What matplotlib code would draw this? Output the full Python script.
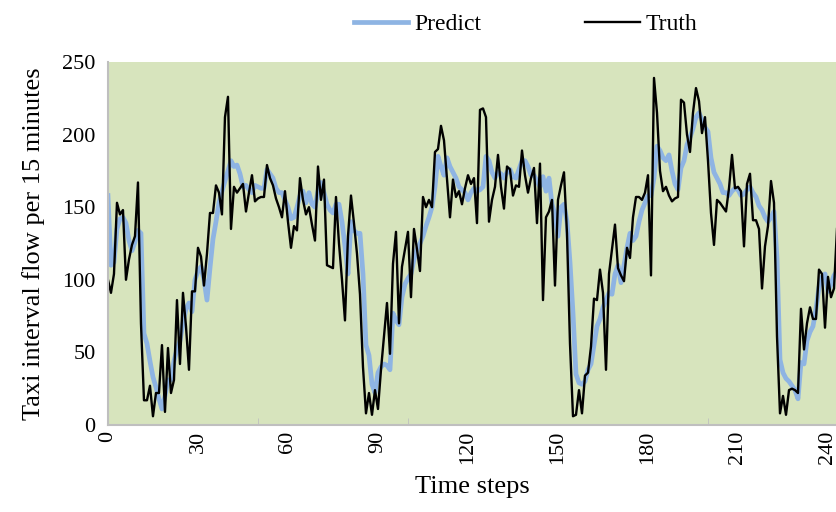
import matplotlib
matplotlib.use("Agg")
import matplotlib.pyplot as plt

plt.rcParams['font.family'] = ['Liberation Serif', 'DejaVu Serif']

# values, one per time step
TRUTH = [
    100, 91, 104, 153, 145, 148, 100, 114, 124, 130,
    167, 70, 17, 17, 27, 6, 22, 22, 55, 9,
    53, 22, 31, 86, 42, 91, 68, 38, 92, 92,
    122, 116, 96, 118, 146, 146, 165, 160, 145, 212,
    226, 135, 164, 160, 163, 166, 147, 160, 172, 154,
    156, 157, 157, 179, 170, 165, 156, 150, 143, 161,
    140, 122, 137, 134, 170, 155, 145, 150, 138, 127,
    178, 155, 169, 110, 109, 108, 157, 125, 100, 72,
    130, 158, 139, 118, 90, 40, 8, 22, 7, 24,
    11, 38, 61, 84, 49, 111, 133, 70, 109, 121,
    133, 88, 135, 121, 106, 157, 150, 155, 150, 188,
    190, 206, 196, 169, 143, 169, 157, 161, 152, 163,
    172, 166, 170, 139, 217, 218, 212, 140, 155, 164,
    186, 164, 149, 178, 176, 158, 165, 164, 189, 172,
    160, 170, 177, 139, 180, 86, 143, 147, 155, 96,
    155, 165, 174, 132, 56, 6, 7, 24, 8, 34,
    36, 54, 87, 86, 107, 91, 38, 104, 121, 138,
    108, 103, 99, 122, 115, 143, 157, 157, 155, 160,
    172, 103, 239, 215, 175, 161, 164, 158, 154, 156,
    157, 224, 222, 200, 188, 215, 232, 223, 201, 212,
    182, 146, 124, 155, 153, 150, 147, 163, 186, 163,
    164, 161, 123, 166, 173, 141, 141, 135, 94, 123,
    137, 168, 153, 61, 8, 20, 7, 24, 25, 24,
    22, 80, 52, 70, 81, 73, 73, 107, 104, 67,
    102, 88, 94, 135,
]

PREDICT = [
    158, 110, 112, 135, 142, 143, 139, 127, 120, 126,
    134, 132, 63, 56, 44, 33, 26, 18, 11, 20,
    31, 31, 44, 52, 58, 70, 80, 84, 78, 100,
    106, 109, 100, 86, 108, 128, 140, 153, 161, 168,
    175, 182, 178, 179, 173, 164, 165, 162, 160, 165,
    164, 163, 163, 176, 173, 170, 163, 160, 160, 155,
    150, 142, 143, 150, 158, 161, 153, 160, 152, 150,
    161, 167, 160, 152, 148, 146, 152, 152, 140, 123,
    104, 140, 134, 132, 132, 104, 55, 48, 28, 22,
    36, 40, 42, 41, 38, 77, 72, 69, 88, 97,
    101, 104, 114, 121, 125, 130, 137, 143, 150, 164,
    185, 178, 172, 184, 178, 174, 170, 164, 162, 160,
    155, 160, 163, 161, 162, 164, 185, 182, 174, 170,
    174, 173, 170, 174, 176, 171, 170, 176, 182, 182,
    178, 172, 172, 168, 164, 171, 161, 170, 152, 145,
    130, 150, 152, 140, 112, 77, 35, 29, 28, 30,
    38, 42, 55, 68, 73, 81, 86, 91, 90, 104,
    110, 98, 110, 122, 132, 127, 130, 140, 148, 153,
    158, 158, 170, 192, 189, 184, 182, 186, 175, 166,
    162, 177, 182, 193, 198, 204, 212, 215, 210, 205,
    202, 184, 174, 170, 166, 160, 160, 158, 161, 163,
    162, 158, 159, 162, 164, 160, 157, 151, 148, 143,
    140, 143, 147, 115, 45, 36, 32, 30, 27, 24,
    18, 43, 42, 58, 64, 68, 80, 95, 102, 104,
    92, 97, 103, 106,
]

STEPS = list(range(len(TRUTH)))
X_LABELS = [0, 30, 60, 90, 120, 150, 180, 210, 240]
X_MARKS = [0, 50, 100, 150, 200]
Y_TICKS = [0, 50, 100, 150, 200, 250]

fig = plt.figure(figsize=(8.37, 5.12), dpi=100)
ax = fig.add_axes([0.129, 0.170, 0.871, 0.709])
ax.set_facecolor('#d7e4bd')

ax.plot(STEPS, PREDICT, color='#8eb4e3', linewidth=3.4, label='Predict')
ax.plot(STEPS, TRUTH, color='black', linewidth=1.7, label='Truth')

ax.set_xlim(0, 243)
ax.set_ylim(0, 250)

ax.set_xticks(X_LABELS)
ax.set_xticklabels([str(v) for v in X_LABELS], rotation=90, fontsize=16)
ax.tick_params(axis='x', length=0, pad=4)
ax.set_xticks(X_MARKS, minor=True)
ax.tick_params(axis='x', which='minor', direction='in', length=5, color='#bfbfbf')

ax.set_yticks(Y_TICKS)
ax.set_yticklabels([str(v) for v in Y_TICKS], fontsize=16)
ax.tick_params(axis='y', length=0, pad=9)
ax.set_yticks([50, 200], minor=True)
ax.tick_params(axis='y', which='minor', direction='in', length=5, color='#bfbfbf')

for side in ('top', 'right'):
    ax.spines[side].set_visible(False)
for side in ('left', 'bottom'):
    ax.spines[side].set_color('#bfbfbf')
    ax.spines[side].set_linewidth(1.5)

ax.set_xlabel('Time steps', fontsize=19, labelpad=9)
ax.set_ylabel('Taxi interval flow per 15 minutes', fontsize=19, labelpad=12)

fig.legend(loc='upper center', bbox_to_anchor=(0.628, 1.015), ncol=2,
           frameon=False, fontsize=17, handlelength=2.3, handletextpad=0.25,
           columnspacing=4.4)

fig.savefig('out.png', dpi=100)
